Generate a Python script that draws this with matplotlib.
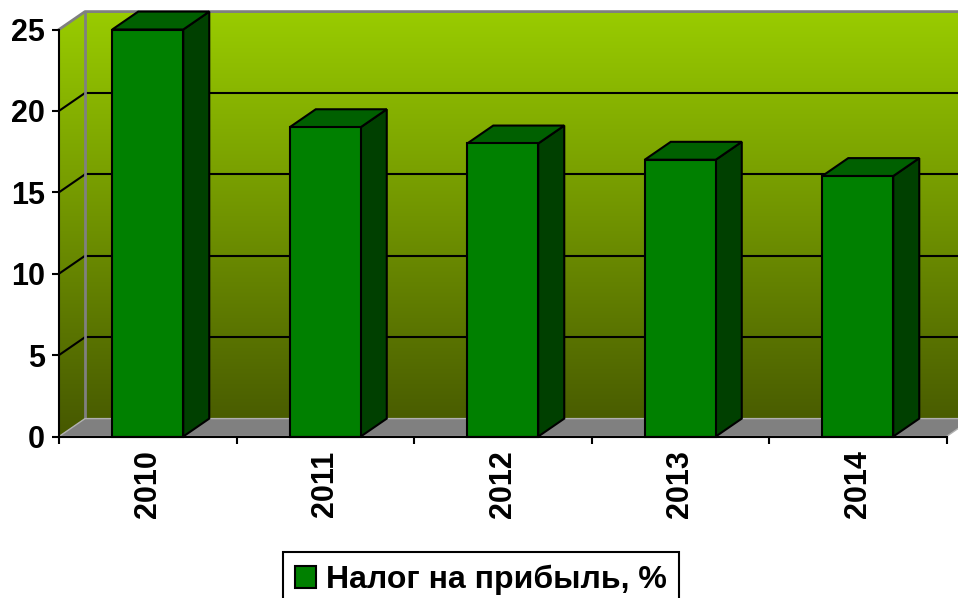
" profit tax rate by year, excel style 3d column chart "
import numpy as np
import matplotlib
matplotlib.use("Agg")
import matplotlib.pyplot as plt
from matplotlib.patches import Polygon, Rectangle, Patch

plt.rcParams.update({'font.family': ['Liberation Sans', 'DejaVu Sans'],
                     'font.weight': 'bold', 'font.size': 22})

years = ["2010", "2011", "2012", "2013", "2014"]
tax = [25, 19, 18, 17, 16]
series_name = "Налог на прибыль, %"
yticks = [0, 5, 10, 15, 20, 25]

# depth offset of the 3d box, in data units (x: categories, y: percent)
DX, DY = 0.1465, 1.1
W = 0.4
front_c, top_c, side_c = "#008000", "#006000", "#004000"
wall_top = np.array([153, 204, 0]) / 255
wall_bot = np.array([70, 88, 0]) / 255

fig = plt.figure(figsize=(9.58, 5.98), dpi=100)
ax = fig.add_axes([59/958, 1 - 436.5/598, 887.5/958, 407/598])
n = len(years)
ymax = yticks[-1]
ax.patch.set_visible(False)

# side + back wall, vertical gradient
grad = np.linspace(wall_top, wall_bot, 256)[:, None, :]
wall = Polygon([(0, 0), (0, ymax), (DX, ymax + DY), (n + DX, ymax + DY),
                (n + DX, DY), (DX, DY)], closed=True, transform=ax.transData)
im = ax.imshow(grad, extent=(0, n + DX, 0, ymax + DY), aspect='auto',
               zorder=0, interpolation='bilinear')
im.set_clip_box(fig.bbox)
im.set_clip_path(wall)

# gridlines on side and back wall
for v in yticks[1:-1]:
    ax.plot([0, DX], [v, v + DY], color='k', lw=1.5, clip_on=False, zorder=1)
    ax.plot([DX, n + DX], [v + DY, v + DY], color='k', lw=1.5,
            clip_on=False, zorder=1)

# wall edges
edge = dict(color='#808080', lw=2, clip_on=False, zorder=1)
ax.plot([DX, DX], [DY, ymax + DY], **edge)
ax.plot([0, DX, n + DX], [ymax, ymax + DY, ymax + DY], **edge)

# floor
ax.add_patch(Polygon([(0, 0), (n, 0), (n + DX, DY), (DX, DY)], closed=True,
                     fc='#808080', ec='#b0b0b0', lw=1, clip_on=False, zorder=2))

# bars
for i, v in enumerate(tax):
    x0 = i + (1 - W) / 2
    sty = dict(ec='k', lw=1.5, clip_on=False, zorder=3)
    ax.add_patch(Polygon([(x0 + W, 0), (x0 + W + DX, DY), (x0 + W + DX, v + DY),
                          (x0 + W, v)], closed=True, fc=side_c, **sty))
    ax.add_patch(Polygon([(x0, v), (x0 + W, v), (x0 + W + DX, v + DY),
                          (x0 + DX, v + DY)], closed=True, fc=top_c, **sty))
    ax.add_patch(Rectangle((x0, 0), W, v, fc=front_c, **sty))

ax.set_xlim(0, n)
ax.set_ylim(0, ymax)

for s in ['top', 'right']:
    ax.spines[s].set_visible(False)
for s in ['left', 'bottom']:
    ax.spines[s].set_linewidth(1.5)
    ax.spines[s].set_zorder(5)

ax.set_yticks(yticks)
ax.tick_params(axis='y', length=5, width=1.5, pad=5)
ax.set_xticks(range(n + 1))
ax.set_xticklabels([])
ax.tick_params(axis='x', which='major', length=5, width=1.5)
ax.set_xticks(np.arange(n) + 0.5, minor=True)
ax.set_xticklabels(years, minor=True, rotation=90)
ax.tick_params(axis='x', which='minor', length=0, pad=10)

leg = fig.legend(handles=[Patch(fc=front_c, ec='k', lw=1.5)],
                 labels=[series_name], loc='upper center',
                 bbox_to_anchor=(481/958, 1 - 552/598), fontsize=23,
                 frameon=True, fancybox=False, edgecolor='k', framealpha=1,
                 handlelength=0.65, handleheight=0.65, handletextpad=0.3,
                 borderpad=0.4, borderaxespad=0)
leg.get_frame().set_linewidth(1.5)

fig.savefig("out.png", dpi=100)
